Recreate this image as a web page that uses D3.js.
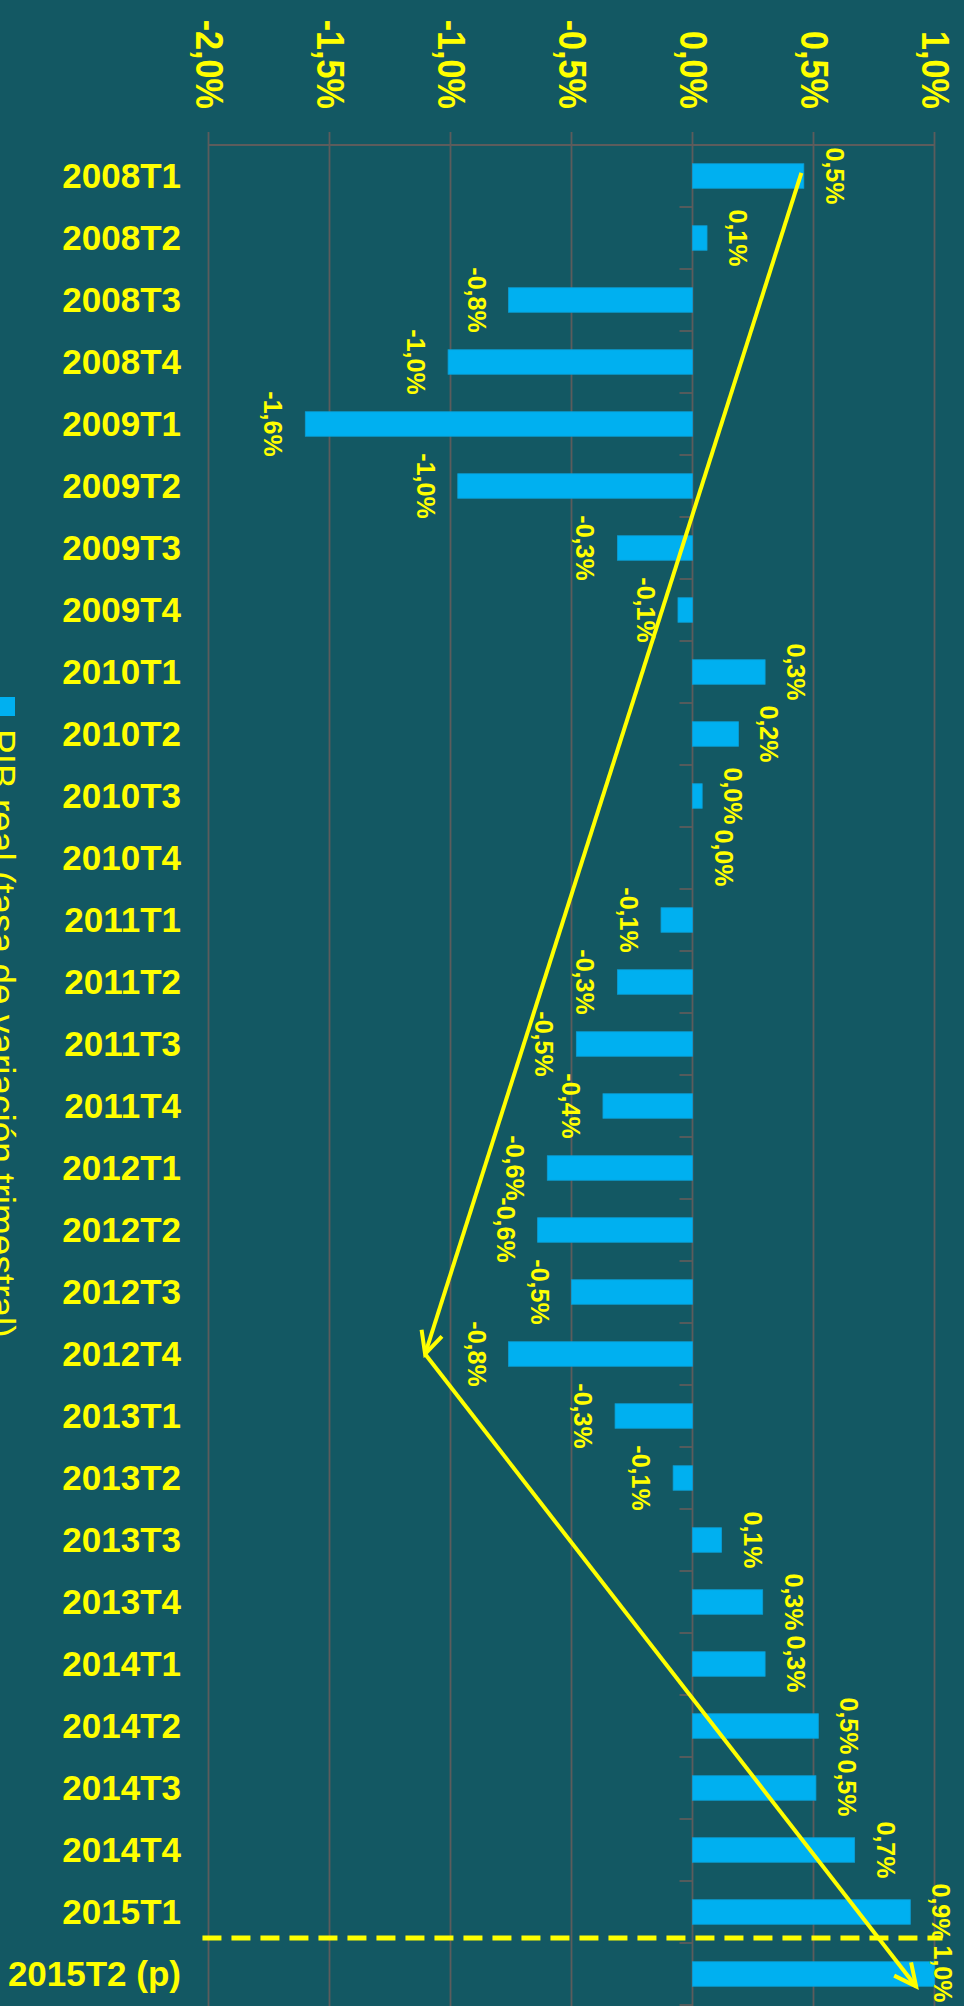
<!DOCTYPE html>
<html>
<head>
<meta charset="utf-8">
<script src="https://cdn.jsdelivr.net/npm/d3@7"></script>
<style>
  body { margin: 0; background: #135863; }
  svg { display: block; }
</style>
</head>
<body>
<div id="chart"></div>
<script>
// quarters (top to bottom)
var quarters = ["2008T1", "2008T2", "2008T3", "2008T4",
    "2009T1", "2009T2", "2009T3", "2009T4",
    "2010T1", "2010T2", "2010T3", "2010T4",
    "2011T1", "2011T2", "2011T3", "2011T4",
    "2012T1", "2012T2", "2012T3", "2012T4",
    "2013T1", "2013T2", "2013T3", "2013T4",
    "2014T1", "2014T2", "2014T3", "2014T4",
    "2015T1", "2015T2 (p)"];

// PIB real, tasa de variacion trimestral (%)
var pibValues = [0.46, 0.06, -0.76, -1.01,
    -1.6, -0.97, -0.31, -0.06,
    0.3, 0.19, 0.04, 0.0,
    -0.13, -0.31, -0.48, -0.37,
    -0.6, -0.64, -0.5, -0.76,
    -0.32, -0.08, 0.12, 0.29,
    0.3, 0.52, 0.51, 0.67,
    0.9, 1.0];

var axisTicks = [-2.0, -1.5, -1.0, -0.5, 0.0, 0.5, 1.0];
var legendLabel = "PIB real (tasa de variación trimestral)";

// trend arrows: [quarter index, value]
var arrowDown = [[-0.05, 0.45], [19, -1.105]];
var arrowUp = [[19, -1.105], [29.2, 0.924]];
// dashed separator before the forecast quarter
var forecastLine = { index: 28.42, from: -2.025, to: 1.033 };

var svgWidth = 964;
var svgHeight = 2006;

var yellow = "#FFFF00";
var gridColor = "#5c5c5c";
var barColor = "#00B0F0";
var fontFam = "'Liberation Sans', Arial, sans-serif";

var svg = d3.select("#chart")
    .append("svg")
    .attr("width", svgWidth)
    .attr("height", svgHeight);

svg.append("rect")
    .attr("width", svgWidth)
    .attr("height", svgHeight)
    .attr("fill", "#135863");

var xScale = d3.scaleLinear()
    .domain([-2, 1])
    .range([208.5, 934.5]);

var yScale = d3.scaleBand()
    .domain(quarters)
    .range([145, 2005])
    .paddingInner(0.605)
    .paddingOuter(0.3025);

var step = yScale.step();
var bw = yScale.bandwidth();
var top0 = yScale.range()[0];

// index scale for annotations
var yIndex = d3.scaleLinear()
    .domain([0, quarters.length - 1])
    .range([yScale(quarters[0]) + bw / 2, yScale(quarters[quarters.length - 1]) + bw / 2]);

var fmt = function (v) {
    return (v < 0 ? "-" : "") + Math.abs(v).toFixed(1).replace(".", ",") + "%";
};

// vertical gridlines + top ticks
svg.append("g")
    .selectAll("line")
    .data(axisTicks)
    .enter()
    .append("line")
    .attr("x1", d => xScale(d))
    .attr("x2", d => xScale(d))
    .attr("y1", top0 - 13)
    .attr("y2", svgHeight)
    .attr("stroke", gridColor)
    .attr("stroke-width", 1.8);

// top value axis line
svg.append("line")
    .attr("x1", xScale(-2))
    .attr("x2", xScale(1))
    .attr("y1", top0)
    .attr("y2", top0)
    .attr("stroke", gridColor)
    .attr("stroke-width", 1.8);

// value axis labels (rotated, a bit condensed like Calibri)
svg.append("g")
    .selectAll("text")
    .data(axisTicks)
    .enter()
    .append("text")
    .attr("transform", d => `translate(${xScale(d) + 1}, 109) rotate(90) scale(0.9, 1)`)
    .attr("dy", "0.35em")
    .attr("text-anchor", "end")
    .style("font-family", fontFam)
    .style("font-weight", "bold")
    .style("font-size", "38px")
    .attr("fill", yellow)
    .text(d => fmt(d));

// category axis ticks at band boundaries
svg.append("g")
    .selectAll("line")
    .data(d3.range(quarters.length + 1))
    .enter()
    .append("line")
    .attr("x1", xScale(0) - 13)
    .attr("x2", xScale(0))
    .attr("y1", i => top0 + i * step)
    .attr("y2", i => top0 + i * step)
    .attr("stroke", gridColor)
    .attr("stroke-width", 1.8);

// category labels
svg.append("g")
    .selectAll("text")
    .data(quarters)
    .enter()
    .append("text")
    .attr("x", 181)
    .attr("y", d => yScale(d) + bw / 2)
    .attr("dy", "0.35em")
    .attr("text-anchor", "end")
    .style("font-family", fontFam)
    .style("font-weight", "bold")
    .style("font-size", "35px")
    .attr("fill", yellow)
    .text(d => d);

// bars
svg.append("g")
    .selectAll("rect")
    .data(pibValues)
    .enter()
    .append("rect")
    .attr("x", d => xScale(Math.min(0, d)))
    .attr("width", d => Math.abs(xScale(d) - xScale(0)))
    .attr("y", (d, i) => yScale(quarters[i]))
    .attr("height", bw)
    .attr("fill", barColor)
    .attr("stroke", "#0b9fd6")
    .attr("stroke-width", 0.8);

// data labels, outside end, rotated (kept inside the plot on the right)
svg.append("g")
    .selectAll("text")
    .data(pibValues)
    .enter()
    .append("text")
    .attr("transform", function (d, i) {
        var xx = d >= 0 ? Math.min(xScale(d) + 22, xScale(1) - 1) : xScale(d) - 41;
        return `translate(${xx}, ${yScale(quarters[i]) + bw / 2}) rotate(90)`;
    })
    .attr("text-anchor", "middle")
    .style("font-family", fontFam)
    .style("font-weight", "bold")
    .style("font-size", "25px")
    .attr("fill", yellow)
    .text(d => fmt(d));

// arrow head marker
svg.append("defs")
    .append("marker")
    .attr("id", "arrow")
    .attr("markerUnits", "userSpaceOnUse")
    .attr("viewBox", "-26 -14 30 28")
    .attr("refX", 0)
    .attr("refY", 0)
    .attr("markerWidth", 30)
    .attr("markerHeight", 28)
    .attr("orient", "auto")
    .append("path")
    .attr("d", "M-22,-10.7 L0,0 L-22,10.7")
    .attr("fill", "none")
    .attr("stroke", yellow)
    .attr("stroke-width", 4);

var arrowLine = d3.line()
    .x(p => xScale(p[1]))
    .y(p => yIndex(p[0]));

[arrowDown, arrowUp].forEach(function (pts) {
    svg.append("path")
        .attr("d", arrowLine(pts))
        .attr("fill", "none")
        .attr("stroke", yellow)
        .attr("stroke-width", 4)
        .attr("marker-end", "url(#arrow)");
});

// dashed line before forecast
svg.append("line")
    .attr("x1", xScale(forecastLine.from))
    .attr("x2", xScale(forecastLine.to))
    .attr("y1", yIndex(forecastLine.index))
    .attr("y2", yIndex(forecastLine.index))
    .attr("stroke", yellow)
    .attr("stroke-width", 5)
    .attr("stroke-dasharray", "19,10");

// legend (cut at the left edge, as in the original)
svg.append("rect")
    .attr("x", -3)
    .attr("y", 697)
    .attr("width", 18)
    .attr("height", 19)
    .attr("fill", barColor);

svg.append("text")
    .attr("transform", "translate(-11.5, 729) rotate(90)")
    .attr("text-anchor", "start")
    .style("font-family", fontFam)
    .style("font-size", "37px")
    .attr("fill", yellow)
    .text(legendLabel);
</script>
</body>
</html>
